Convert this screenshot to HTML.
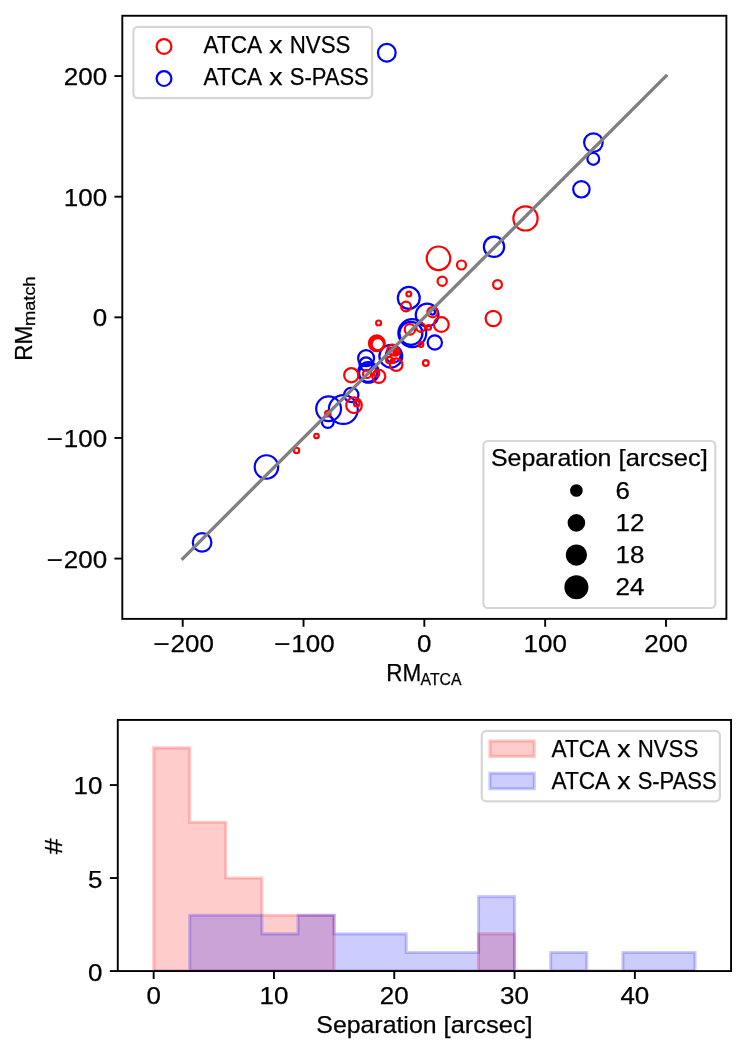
<!DOCTYPE html>
<html><head><meta charset="utf-8"><title>chart</title>
<style>html,body{margin:0;padding:0;background:#fff;}body{width:747px;height:1054px;overflow:hidden;font-family:"Liberation Sans",sans-serif;}svg text{font-family:"Liberation Sans",sans-serif;}</style>
</head><body>
<svg width="747" height="1054" viewBox="0 0 747 1054" style="display:block;will-change:transform" font-family="Liberation Sans, sans-serif">
<rect width="747" height="1054" fill="#fff"/>
<g fill="none" stroke-width="2.2"><circle cx="386.8" cy="52.8" r="8.85" stroke="#0000ff"/><circle cx="593.4" cy="142.6" r="9.30" stroke="#0000ff"/><circle cx="593.3" cy="158.9" r="5.90" stroke="#0000ff"/><circle cx="581.4" cy="189.3" r="8.20" stroke="#0000ff"/><circle cx="494.0" cy="246.8" r="10.15" stroke="#0000ff"/><circle cx="408.8" cy="297.9" r="10.95" stroke="#0000ff"/><circle cx="427.1" cy="315.0" r="11.35" stroke="#0000ff"/><circle cx="432.5" cy="312.1" r="2.50" stroke="#0000ff"/><circle cx="412.3" cy="333.1" r="13.95" stroke="#0000ff"/><circle cx="410.9" cy="333.3" r="11.50" stroke="#0000ff"/><circle cx="434.8" cy="342.5" r="7.15" stroke="#0000ff"/><circle cx="390.8" cy="356.2" r="11.40" stroke="#0000ff"/><circle cx="393.2" cy="355.3" r="7.40" stroke="#0000ff"/><circle cx="366.1" cy="358.2" r="8.00" stroke="#0000ff"/><circle cx="366.1" cy="364.1" r="6.65" stroke="#0000ff"/><circle cx="368.4" cy="372.4" r="10.35" stroke="#0000ff"/><circle cx="368.0" cy="373.0" r="8.90" stroke="#0000ff"/><circle cx="351.3" cy="394.9" r="7.15" stroke="#0000ff"/><circle cx="328.6" cy="408.8" r="12.40" stroke="#0000ff"/><circle cx="343.3" cy="409.5" r="14.45" stroke="#0000ff"/><circle cx="327.8" cy="422.0" r="5.90" stroke="#0000ff"/><circle cx="266.4" cy="467.0" r="11.75" stroke="#0000ff"/><circle cx="202.1" cy="542.4" r="9.30" stroke="#0000ff"/><circle cx="525.5" cy="218.4" r="12.10" stroke="#ff0000"/><circle cx="438.5" cy="258.3" r="11.80" stroke="#ff0000"/><circle cx="461.5" cy="265.0" r="4.50" stroke="#ff0000"/><circle cx="442.2" cy="281.3" r="4.60" stroke="#ff0000"/><circle cx="497.5" cy="284.5" r="4.40" stroke="#ff0000"/><circle cx="493.3" cy="318.5" r="7.65" stroke="#ff0000"/><circle cx="408.8" cy="294.1" r="2.40" stroke="#ff0000"/><circle cx="406.0" cy="306.5" r="4.90" stroke="#ff0000"/><circle cx="432.5" cy="312.2" r="5.10" stroke="#ff0000"/><circle cx="441.3" cy="324.5" r="7.40" stroke="#ff0000"/><circle cx="428.7" cy="327.4" r="2.35" stroke="#ff0000"/><circle cx="420.7" cy="327.4" r="4.40" stroke="#ff0000"/><circle cx="409.9" cy="329.4" r="5.20" stroke="#ff0000"/><circle cx="420.9" cy="344.5" r="2.45" stroke="#ff0000"/><circle cx="425.8" cy="363.0" r="2.85" stroke="#ff0000"/><circle cx="378.6" cy="323.0" r="2.50" stroke="#ff0000"/><circle cx="376.8" cy="343.3" r="7.90" stroke="#ff0000"/><circle cx="377.8" cy="344.2" r="6.15" stroke="#ff0000"/><circle cx="377.2" cy="343.8" r="7.05" stroke="#ff0000"/><circle cx="396.2" cy="364.7" r="6.25" stroke="#ff0000"/><circle cx="392.7" cy="350.0" r="5.35" stroke="#ff0000"/><circle cx="393.9" cy="351.2" r="3.90" stroke="#ff0000"/><circle cx="396.4" cy="351.1" r="2.90" stroke="#ff0000"/><circle cx="396.0" cy="350.3" r="2.10" stroke="#ff0000"/><circle cx="397.6" cy="352.6" r="2.10" stroke="#ff0000"/><circle cx="395.6" cy="353.6" r="2.10" stroke="#ff0000"/><circle cx="389.4" cy="360.2" r="3.30" stroke="#ff0000"/><circle cx="392.7" cy="361.2" r="1.90" stroke="#ff0000"/><circle cx="351.3" cy="375.2" r="7.15" stroke="#ff0000"/><circle cx="378.8" cy="376.3" r="6.55" stroke="#ff0000"/><circle cx="367.1" cy="373.9" r="4.10" stroke="#ff0000"/><circle cx="376.6" cy="373.7" r="2.65" stroke="#ff0000"/><circle cx="354.0" cy="405.2" r="7.80" stroke="#ff0000"/><circle cx="356.7" cy="403.4" r="2.80" stroke="#ff0000"/><circle cx="327.8" cy="413.5" r="2.65" stroke="#ff0000"/><circle cx="316.5" cy="436.0" r="2.25" stroke="#ff0000"/><circle cx="296.6" cy="450.4" r="2.65" stroke="#ff0000"/></g>
<line x1="182.71" y1="558.57" x2="665.98" y2="76.07" stroke="#808080" stroke-width="3.3" stroke-linecap="square"/>
<rect x="122.3" y="15.76" width="604.09" height="603.12" fill="none" stroke="#000" stroke-width="1.9"/>
<g stroke="#000" stroke-width="1.9"><line x1="182.71" y1="618.88" x2="182.71" y2="626.78"/><line x1="122.3" y1="558.57" x2="114.39999999999999" y2="558.57"/><line x1="303.53" y1="618.88" x2="303.53" y2="626.78"/><line x1="122.3" y1="437.94" x2="114.39999999999999" y2="437.94"/><line x1="424.34" y1="618.88" x2="424.34" y2="626.78"/><line x1="122.3" y1="317.32" x2="114.39999999999999" y2="317.32"/><line x1="545.16" y1="618.88" x2="545.16" y2="626.78"/><line x1="122.3" y1="196.70" x2="114.39999999999999" y2="196.70"/><line x1="665.98" y1="618.88" x2="665.98" y2="626.78"/><line x1="122.3" y1="76.07" x2="114.39999999999999" y2="76.07"/></g>
<rect x="133.4" y="26.85" width="238.70" height="71.35" rx="4.6" fill="#fff" fill-opacity="0.8" stroke="#cccccc" stroke-opacity="0.8" stroke-width="2.2"/>
<circle cx="164.0" cy="46.5" r="7.4" fill="none" stroke="#ff0000" stroke-width="2.2"/>
<circle cx="164.0" cy="78.6" r="7.4" fill="none" stroke="#0000ff" stroke-width="2.2"/>
<rect x="483.4" y="441.0" width="231.90" height="167.00" rx="4.6" fill="#fff" fill-opacity="0.8" stroke="#cccccc" stroke-opacity="0.8" stroke-width="2.2"/>
<circle cx="576.4" cy="490.5" r="6.35" fill="#000"/>
<circle cx="576.4" cy="522.9" r="8.8" fill="#000"/>
<circle cx="576.4" cy="555.1" r="10.6" fill="#000"/>
<circle cx="576.4" cy="587.2" r="12.0" fill="#000"/>
<clipPath id="c2"><rect x="117.77" y="719.93" width="613.29" height="251.13"/></clipPath>
<g clip-path="url(#c2)" stroke-width="3.1" stroke-linejoin="miter"><path d="M153.66 971.06 L153.66 747.86 L189.75 747.86 L189.75 822.26 L225.84 822.26 L225.84 878.06 L261.93 878.06 L261.93 915.26 L298.02 915.26 L298.02 915.26 L334.11 915.26 L334.11 971.06 L370.20 971.06 L370.20 971.06 L406.29 971.06 L406.29 971.06 L442.38 971.06 L442.38 971.06 L478.47 971.06 L478.47 933.86 L514.56 933.86 L514.56 971.06 L550.65 971.06 L550.65 971.06 L586.74 971.06 L586.74 971.06 L622.83 971.06 L622.83 971.06 L658.92 971.06 L658.92 971.06 L695.01 971.06 L695.01 971.06 Z" fill="#ff0000" fill-opacity="0.2" stroke="#ff0000" stroke-opacity="0.2"/><path d="M153.66 971.06 L153.66 971.06 L189.75 971.06 L189.75 915.26 L225.84 915.26 L225.84 915.26 L261.93 915.26 L261.93 933.86 L298.02 933.86 L298.02 915.26 L334.11 915.26 L334.11 933.86 L370.20 933.86 L370.20 933.86 L406.29 933.86 L406.29 952.46 L442.38 952.46 L442.38 952.46 L478.47 952.46 L478.47 896.66 L514.56 896.66 L514.56 971.06 L550.65 971.06 L550.65 952.46 L586.74 952.46 L586.74 971.06 L622.83 971.06 L622.83 952.46 L658.92 952.46 L658.92 952.46 L695.01 952.46 L695.01 971.06 Z" fill="#0000ff" fill-opacity="0.2" stroke="#0000ff" stroke-opacity="0.2"/></g>
<rect x="117.77" y="719.93" width="613.29" height="251.13" fill="none" stroke="#000" stroke-width="1.9"/>
<g stroke="#000" stroke-width="1.9"><line x1="153.66" y1="971.06" x2="153.66" y2="978.9599999999999"/><line x1="273.96" y1="971.06" x2="273.96" y2="978.9599999999999"/><line x1="394.26" y1="971.06" x2="394.26" y2="978.9599999999999"/><line x1="514.56" y1="971.06" x2="514.56" y2="978.9599999999999"/><line x1="634.86" y1="971.06" x2="634.86" y2="978.9599999999999"/><line x1="117.77" y1="971.06" x2="109.86999999999999" y2="971.06"/><line x1="117.77" y1="878.06" x2="109.86999999999999" y2="878.06"/><line x1="117.77" y1="785.06" x2="109.86999999999999" y2="785.06"/></g>
<rect x="481.8" y="730.9" width="238.10" height="70.50" rx="4.6" fill="#fff" fill-opacity="0.8" stroke="#cccccc" stroke-opacity="0.8" stroke-width="2.2"/>
<rect x="489.9" y="740.9" width="44.4" height="15.6" fill="#ff0000" fill-opacity="0.2" stroke="#ff0000" stroke-opacity="0.2" stroke-width="3.1"/>
<rect x="489.9" y="773.2" width="44.4" height="15.6" fill="#0000ff" fill-opacity="0.2" stroke="#0000ff" stroke-opacity="0.2" stroke-width="3.1"/>
<text x="153.25" y="652.00" font-size="24.00" textLength="16.36" lengthAdjust="spacingAndGlyphs" fill="#000" stroke="#000" stroke-width="0.25">−</text>
<text x="170.55" y="652.00" font-size="24.00" textLength="43.33" lengthAdjust="spacingAndGlyphs" fill="#000" stroke="#000" stroke-width="0.25">200</text>
<text x="46.56" y="567.57" font-size="24.00" textLength="16.36" lengthAdjust="spacingAndGlyphs" fill="#000" stroke="#000" stroke-width="0.25">−</text>
<text x="63.87" y="567.57" font-size="24.00" textLength="43.33" lengthAdjust="spacingAndGlyphs" fill="#000" stroke="#000" stroke-width="0.25">200</text>
<text x="274.06" y="652.00" font-size="24.00" textLength="16.36" lengthAdjust="spacingAndGlyphs" fill="#000" stroke="#000" stroke-width="0.25">−</text>
<text x="291.37" y="652.00" font-size="24.00" textLength="43.33" lengthAdjust="spacingAndGlyphs" fill="#000" stroke="#000" stroke-width="0.25">100</text>
<text x="46.56" y="446.94" font-size="24.00" textLength="16.36" lengthAdjust="spacingAndGlyphs" fill="#000" stroke="#000" stroke-width="0.25">−</text>
<text x="63.87" y="446.94" font-size="24.00" textLength="43.33" lengthAdjust="spacingAndGlyphs" fill="#000" stroke="#000" stroke-width="0.25">100</text>
<text x="417.12" y="652.00" font-size="24.00" textLength="14.44" lengthAdjust="spacingAndGlyphs" fill="#000" stroke="#000" stroke-width="0.25">0</text>
<text x="92.76" y="326.32" font-size="24.00" textLength="14.44" lengthAdjust="spacingAndGlyphs" fill="#000" stroke="#000" stroke-width="0.25">0</text>
<text x="523.50" y="652.00" font-size="24.00" textLength="43.33" lengthAdjust="spacingAndGlyphs" fill="#000" stroke="#000" stroke-width="0.25">100</text>
<text x="63.87" y="205.70" font-size="24.00" textLength="43.33" lengthAdjust="spacingAndGlyphs" fill="#000" stroke="#000" stroke-width="0.25">100</text>
<text x="644.32" y="652.00" font-size="24.00" textLength="43.33" lengthAdjust="spacingAndGlyphs" fill="#000" stroke="#000" stroke-width="0.25">200</text>
<text x="63.87" y="85.07" font-size="24.00" textLength="43.33" lengthAdjust="spacingAndGlyphs" fill="#000" stroke="#000" stroke-width="0.25">200</text>
<text x="386.30" y="680.90" font-size="24.00" textLength="34.97" lengthAdjust="spacingAndGlyphs" fill="#000" stroke="#000" stroke-width="0.25">RM</text>
<text x="420.60" y="685.00" font-size="16.78" textLength="40.96" lengthAdjust="spacingAndGlyphs" fill="#000" stroke="#000" stroke-width="0.25">ATCA</text>
<g transform="rotate(-90 31.70 360.70)"><text x="31.70" y="360.70" font-size="24.00" textLength="34.97" lengthAdjust="spacingAndGlyphs" fill="#000" stroke="#000" stroke-width="0.25">RM</text></g>
<g transform="rotate(-90 35.30 326.00)"><text x="35.30" y="326.00" font-size="16.78" textLength="49.65" lengthAdjust="spacingAndGlyphs" fill="#000" stroke="#000" stroke-width="0.25">match</text></g>
<text x="203.60" y="52.50" font-size="24.00" textLength="58.58" lengthAdjust="spacingAndGlyphs" fill="#000" stroke="#000" stroke-width="0.25">ATCA</text>
<text x="269.31" y="52.50" font-size="24.00" textLength="13.29" lengthAdjust="spacingAndGlyphs" fill="#000" stroke="#000" stroke-width="0.25">x</text>
<text x="289.73" y="52.50" font-size="24.00" textLength="60.65" lengthAdjust="spacingAndGlyphs" fill="#000" stroke="#000" stroke-width="0.25">NVSS</text>
<text x="203.60" y="84.70" font-size="24.00" textLength="58.58" lengthAdjust="spacingAndGlyphs" fill="#000" stroke="#000" stroke-width="0.25">ATCA</text>
<text x="269.31" y="84.70" font-size="24.00" textLength="13.29" lengthAdjust="spacingAndGlyphs" fill="#000" stroke="#000" stroke-width="0.25">x</text>
<text x="289.73" y="84.70" font-size="24.00" textLength="79.03" lengthAdjust="spacingAndGlyphs" fill="#000" stroke="#000" stroke-width="0.25">S-PASS</text>
<text x="490.90" y="466.10" font-size="24.00" textLength="120.60" lengthAdjust="spacingAndGlyphs" fill="#000" stroke="#000" stroke-width="0.25">Separation</text>
<text x="618.55" y="466.10" font-size="24.00" textLength="89.37" lengthAdjust="spacingAndGlyphs" fill="#000" stroke="#000" stroke-width="0.25">[arcsec]</text>
<text x="615.50" y="499.00" font-size="24.00" textLength="14.44" lengthAdjust="spacingAndGlyphs" fill="#000" stroke="#000" stroke-width="0.25">6</text>
<text x="615.50" y="530.90" font-size="24.00" textLength="28.89" lengthAdjust="spacingAndGlyphs" fill="#000" stroke="#000" stroke-width="0.25">12</text>
<text x="615.50" y="563.00" font-size="24.00" textLength="28.89" lengthAdjust="spacingAndGlyphs" fill="#000" stroke="#000" stroke-width="0.25">18</text>
<text x="615.50" y="594.90" font-size="24.00" textLength="28.89" lengthAdjust="spacingAndGlyphs" fill="#000" stroke="#000" stroke-width="0.25">24</text>
<text x="146.44" y="1004.00" font-size="24.00" textLength="14.44" lengthAdjust="spacingAndGlyphs" fill="#000" stroke="#000" stroke-width="0.25">0</text>
<text x="259.52" y="1004.00" font-size="24.00" textLength="28.89" lengthAdjust="spacingAndGlyphs" fill="#000" stroke="#000" stroke-width="0.25">10</text>
<text x="379.82" y="1004.00" font-size="24.00" textLength="28.89" lengthAdjust="spacingAndGlyphs" fill="#000" stroke="#000" stroke-width="0.25">20</text>
<text x="500.12" y="1004.00" font-size="24.00" textLength="28.89" lengthAdjust="spacingAndGlyphs" fill="#000" stroke="#000" stroke-width="0.25">30</text>
<text x="620.42" y="1004.00" font-size="24.00" textLength="28.89" lengthAdjust="spacingAndGlyphs" fill="#000" stroke="#000" stroke-width="0.25">40</text>
<text x="88.06" y="981.00" font-size="24.00" textLength="14.44" lengthAdjust="spacingAndGlyphs" fill="#000" stroke="#000" stroke-width="0.25">0</text>
<text x="88.06" y="887.70" font-size="24.00" textLength="14.44" lengthAdjust="spacingAndGlyphs" fill="#000" stroke="#000" stroke-width="0.25">5</text>
<text x="73.61" y="794.30" font-size="24.00" textLength="28.89" lengthAdjust="spacingAndGlyphs" fill="#000" stroke="#000" stroke-width="0.25">10</text>
<g transform="rotate(-90 61.80 846.40)"><text x="53.90" y="846.40" font-size="24.00" textLength="15.80" lengthAdjust="spacingAndGlyphs" fill="#000" stroke="#000" stroke-width="0.25">#</text></g>
<text x="316.32" y="1033.40" font-size="24.00" textLength="120.23" lengthAdjust="spacingAndGlyphs" fill="#000" stroke="#000" stroke-width="0.25">Separation</text>
<text x="443.58" y="1033.40" font-size="24.00" textLength="89.10" lengthAdjust="spacingAndGlyphs" fill="#000" stroke="#000" stroke-width="0.25">[arcsec]</text>
<text x="551.50" y="757.10" font-size="24.00" textLength="58.58" lengthAdjust="spacingAndGlyphs" fill="#000" stroke="#000" stroke-width="0.25">ATCA</text>
<text x="617.21" y="757.10" font-size="24.00" textLength="13.29" lengthAdjust="spacingAndGlyphs" fill="#000" stroke="#000" stroke-width="0.25">x</text>
<text x="637.63" y="757.10" font-size="24.00" textLength="60.65" lengthAdjust="spacingAndGlyphs" fill="#000" stroke="#000" stroke-width="0.25">NVSS</text>
<text x="551.50" y="789.00" font-size="24.00" textLength="58.58" lengthAdjust="spacingAndGlyphs" fill="#000" stroke="#000" stroke-width="0.25">ATCA</text>
<text x="617.21" y="789.00" font-size="24.00" textLength="13.29" lengthAdjust="spacingAndGlyphs" fill="#000" stroke="#000" stroke-width="0.25">x</text>
<text x="637.63" y="789.00" font-size="24.00" textLength="79.03" lengthAdjust="spacingAndGlyphs" fill="#000" stroke="#000" stroke-width="0.25">S-PASS</text>
</svg>
</body></html>
